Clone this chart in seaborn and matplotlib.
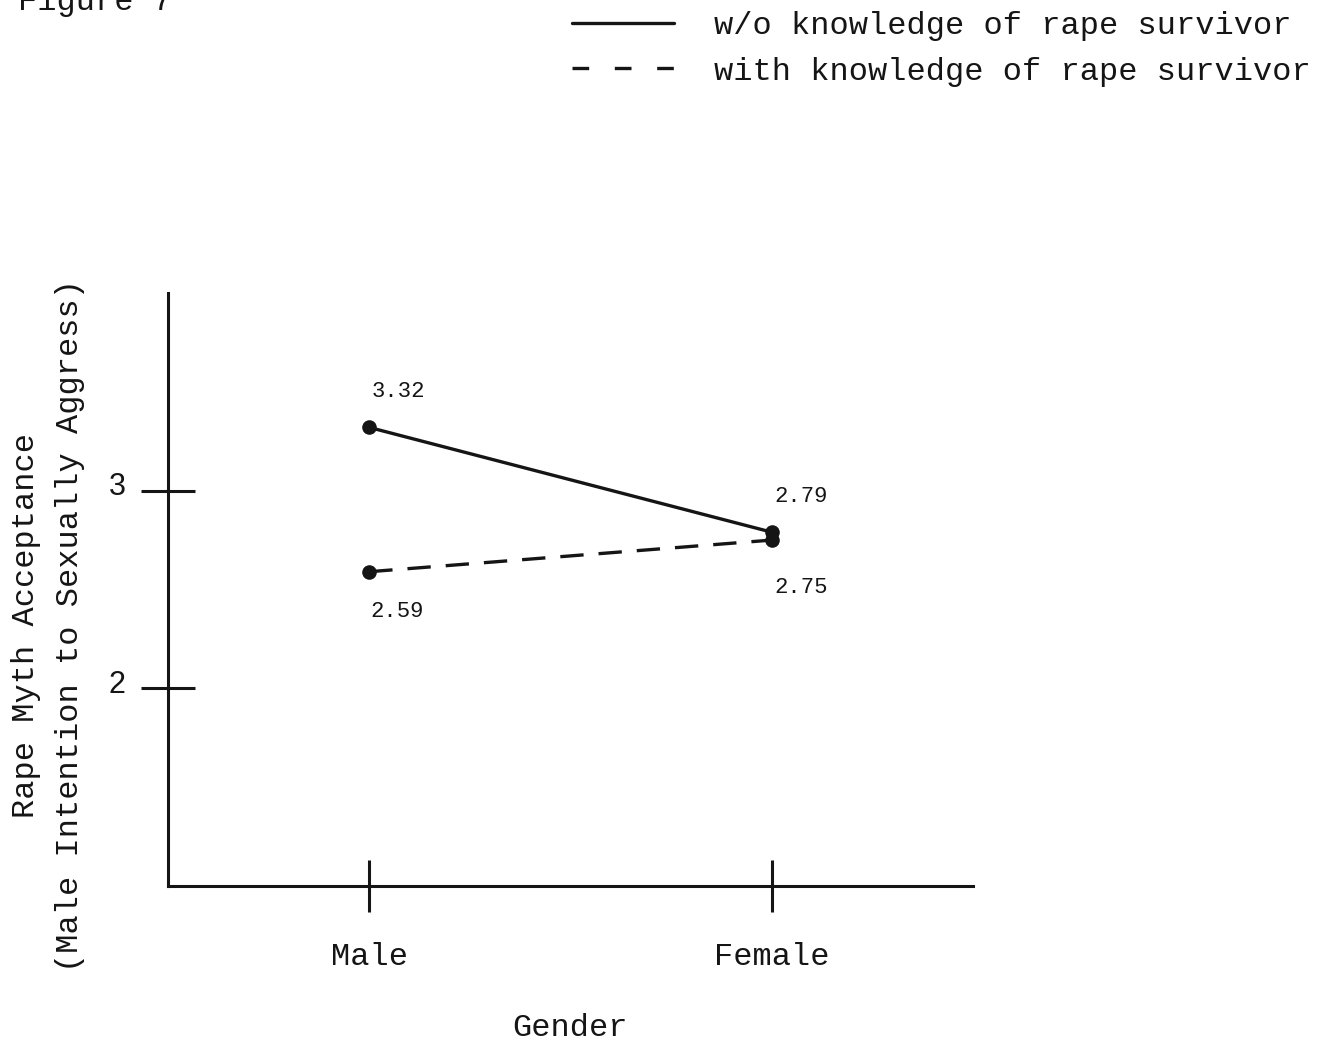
import numpy as np
import pandas as pd
import matplotlib
matplotlib.use("Agg")
import matplotlib.pyplot as plt
from matplotlib.lines import Line2D
from matplotlib.transforms import ScaledTranslation
import seaborn as sns

# ---- data ----
genders = ["Male", "Female"]
groups = ["w/o knowledge of rape survivor", "with knowledge of rape survivor"]
without_knowledge = [3.32, 2.79]
with_knowledge = [2.59, 2.75]
y_ticks = [2, 3]
x_title = "Gender"
y_title = "Rape Myth Acceptance\n(Male Intention to Sexually Aggress)"
fig_title = "Figure 7"

df = pd.DataFrame({
    "Gender": genders * 2,
    "Value": without_knowledge + with_knowledge,
    "Group": [groups[0]] * 2 + [groups[1]] * 2,
})

sns.set_theme(style="white")
MONO = "Liberation Mono"
SANS = "Liberation Sans"
plt.rcParams["font.family"] = [MONO, "DejaVu Sans"]
INK = "#151515"

W, H = 1321, 1042
fig = plt.figure(figsize=(W / 100, H / 100), dpi=100)
fig.patch.set_facecolor("white")
ax = fig.add_axes([168 / W, 1 - 886 / H, (973 - 168) / W, (886 - 293) / H])
ax.set_facecolor("white")

sns.lineplot(
    data=df, x="Gender", y="Value", style="Group", style_order=groups,
    dashes={groups[0]: "", groups[1]: (7, 4.5)},
    markers={groups[0]: "o", groups[1]: "o"},
    color=INK, linewidth=2.4, markersize=10.5, markeredgewidth=0,
    legend=False, sort=False, ax=ax,
)

ax.set_xlim(-0.5, 1.5)
ax.set_ylim(1, 4)
ax.set_yticks(y_ticks)
ax.set_yticklabels([str(t) for t in y_ticks], fontfamily=SANS, fontsize=22, color=INK)
ax.set_xticks(range(len(genders)))
ax.set_xticklabels(genders, fontfamily=MONO, fontsize=23, color=INK)

for s in ["top", "right"]:
    ax.spines[s].set_visible(False)
for s in ["left", "bottom"]:
    ax.spines[s].set_linewidth(2.2)
    ax.spines[s].set_color(INK)

ax.tick_params(axis="y", direction="inout", length=39, width=2.2, color=INK, pad=11, left=True)
ax.tick_params(axis="x", direction="inout", length=37, width=2.2, color=INK, pad=22, bottom=True)
for lbl in ax.get_yticklabels():
    lbl.set_transform(lbl.get_transform() + ScaledTranslation(0, 0.07, fig.dpi_scale_trans))

# data labels
offsets = {
    (0, 0): (21, 26), (1, 0): (21, 26),
    (0, 1): (20, -29), (1, 1): (21, -34),
}
for gi, vals in enumerate([without_knowledge, with_knowledge]):
    for xi, v in enumerate(vals):
        ax.annotate(f"{v:.2f}", (xi, v), xytext=offsets[(xi, gi)],
                    textcoords="offset points", ha="center", va="center",
                    fontsize=16, fontfamily=MONO, color=INK)

ax.set_xlabel(x_title, fontsize=23, fontfamily=MONO, color=INK, labelpad=29)
ax.set_ylabel(y_title, fontsize=23, fontfamily=MONO, color=INK, linespacing=1.6,
              ha="center", va="center")
ax.yaxis.set_label_coords((48 - 168) / (973 - 168), (886 - 625) / (886 - 293))

# legend
handles = [
    Line2D([], [], color=INK, linewidth=2.4),
    Line2D([], [], color=INK, linewidth=2.4, dashes=(5, 7.7)),
]
fig.legend(handles, groups, loc="upper left", bbox_to_anchor=(572 / W, 1 - 11 / H),
           frameon=False, handlelength=3.2, handletextpad=1.25, labelspacing=0.49,
           borderpad=0, borderaxespad=0,
           prop={"family": MONO, "size": 23}, labelcolor=INK)

fig.text(18 / W, 1 - 10 / H, fig_title, fontsize=23, fontfamily=MONO, color=INK,
         ha="left", va="baseline")

fig.savefig("out.png", dpi=100, facecolor="white")
